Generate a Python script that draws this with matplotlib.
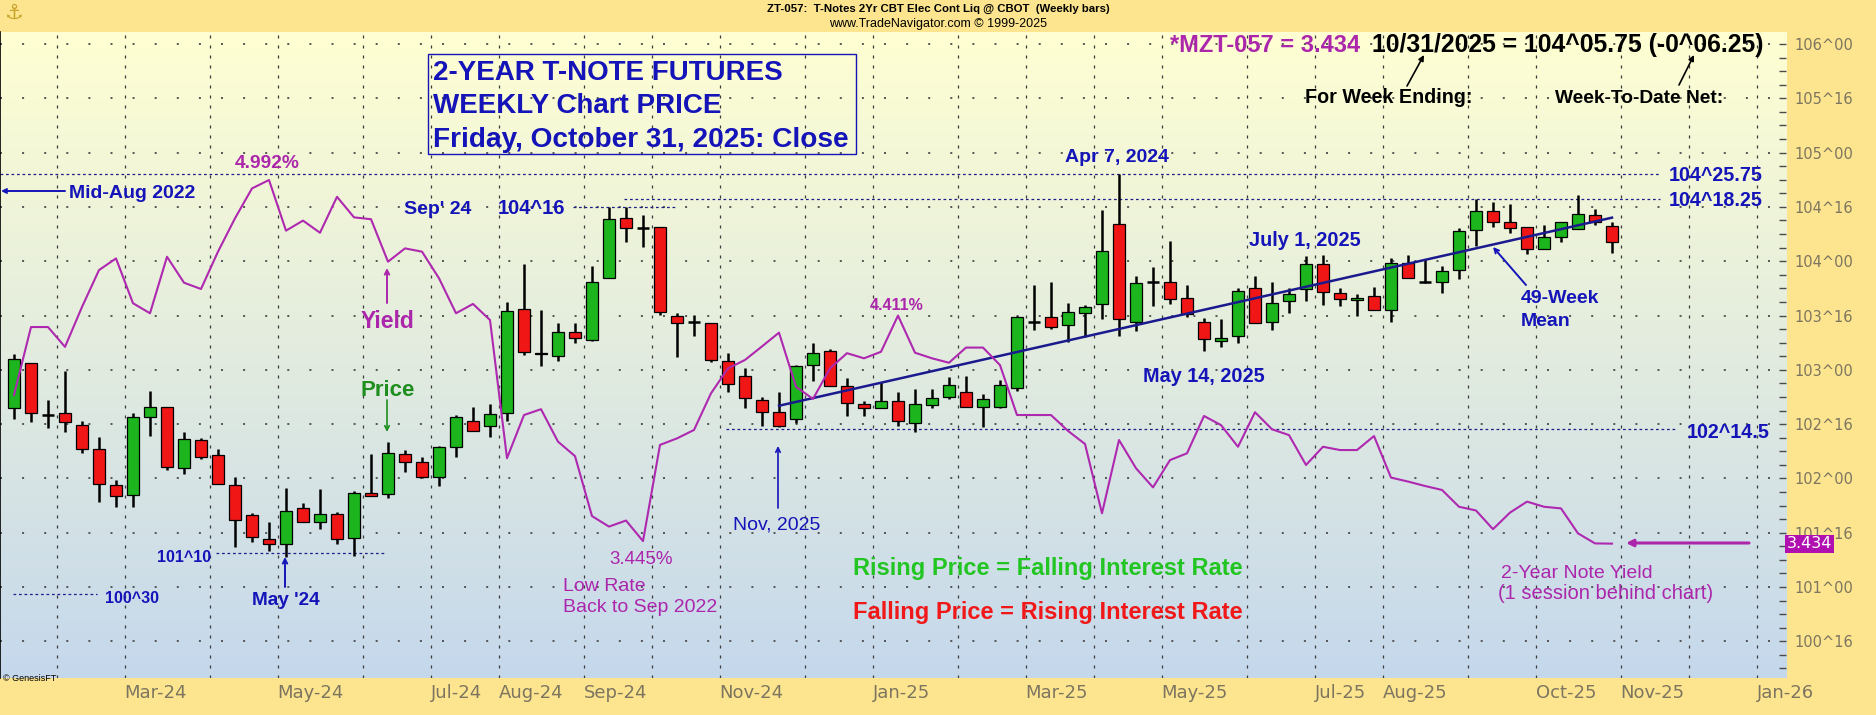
import numpy as np
import pandas as pd
import matplotlib
matplotlib.use("Agg")
import matplotlib.pyplot as plt
from matplotlib.patches import Rectangle

W, H, DPI = 1876, 715, 100

# ---------------- data ----------------
first_week = "2024-01-12"   # week ending dates, weekly bars
opens = [102.646, 103.060, 102.584, 102.600, 102.489, 102.268, 101.940, 101.848, 102.563, 102.655,
         102.093, 102.354, 102.216, 101.940, 101.663, 101.439, 101.393, 101.725, 101.602, 101.673,
         101.448, 101.863, 101.854, 102.222, 102.155, 102.010, 102.293, 102.529, 102.483, 102.599,
         103.560, 103.157, 103.127, 103.351, 103.274, 103.842, 104.395, 104.303, 104.312, 103.495,
         103.437, 103.428, 103.084, 102.946, 102.722, 102.609, 102.544, 103.044, 103.176, 102.854,
         102.682, 102.651, 102.713, 102.507, 102.676, 102.753, 102.792, 102.661, 102.660, 102.829,
         103.443, 103.483, 103.413, 103.526, 103.603, 104.339, 103.443, 103.812, 103.812, 103.658,
         103.443, 103.268, 103.311, 103.750, 103.443, 103.633, 103.741, 103.971, 103.710, 103.643,
         103.680, 103.551, 103.987, 103.805, 103.805, 103.919, 104.287, 104.465, 104.358, 104.312,
         104.112, 104.226, 104.297, 104.425, 104.327]
highs = [103.143, 103.066, 102.722, 102.989, 102.529, 102.379, 101.987, 102.600, 102.805, 102.655,
         102.425, 102.369, 102.268, 102.010, 101.679, 101.602, 101.909, 101.771, 101.900, 101.694,
         101.887, 102.222, 102.333, 102.262, 102.194, 102.302, 102.584, 102.655, 102.686, 103.627,
         103.974, 103.551, 103.428, 103.428, 103.956, 104.496, 104.496, 104.425, 104.312, 103.520,
         103.505, 103.428, 103.152, 103.014, 102.747, 102.799, 103.044, 103.244, 103.189, 102.921,
         102.716, 102.885, 102.799, 102.820, 102.820, 102.931, 102.943, 102.777, 102.906, 103.498,
         103.781, 103.805, 103.612, 103.597, 104.471, 104.805, 103.864, 103.944, 104.186, 103.781,
         103.480, 103.465, 103.750, 103.864, 103.805, 103.750, 104.048, 104.057, 103.750, 103.698,
         103.759, 104.027, 104.057, 104.017, 103.956, 104.303, 104.570, 104.548, 104.527, 104.312,
         104.333, 104.364, 104.610, 104.477, 104.358]
lows = [102.544, 102.523, 102.461, 102.431, 102.237, 101.786, 101.734, 101.734, 102.394, 102.078,
        102.038, 102.176, 101.946, 101.372, 101.412, 101.335, 101.274, 101.596, 101.535, 101.396,
        101.286, 101.841, 101.823, 102.062, 102.001, 101.934, 102.201, 102.437, 102.379, 102.532,
        103.136, 103.038, 103.084, 103.244, 103.268, 103.842, 104.180, 104.134, 103.505, 103.121,
        103.315, 103.075, 102.799, 102.651, 102.483, 102.477, 102.513, 102.900, 102.851, 102.578,
        102.578, 102.645, 102.483, 102.431, 102.651, 102.731, 102.660, 102.476, 102.645, 102.808,
        103.367, 103.376, 103.253, 103.305, 103.468, 103.314, 103.357, 103.591, 103.606, 103.489,
        103.176, 103.213, 103.244, 103.428, 103.367, 103.520, 103.637, 103.597, 103.591, 103.499,
        103.551, 103.443, 103.842, 103.796, 103.710, 103.833, 104.140, 104.318, 104.263, 104.063,
        104.109, 104.174, 104.297, 104.333, 104.072]
closes = [103.097, 102.600, 102.584, 102.517, 102.268, 101.946, 101.841, 102.563, 102.655, 102.102,
          102.360, 102.201, 101.946, 101.617, 101.458, 101.393, 101.703, 101.602, 101.670, 101.442,
          101.863, 101.841, 102.231, 102.155, 102.010, 102.287, 102.563, 102.437, 102.590, 103.545,
          103.167, 103.150, 103.351, 103.290, 103.812, 104.386, 104.303, 104.303, 103.535, 103.428,
          103.437, 103.090, 102.869, 102.737, 102.609, 102.486, 103.035, 103.158, 102.851, 102.697,
          102.651, 102.716, 102.532, 102.682, 102.737, 102.860, 102.660, 102.728, 102.860, 103.489,
          103.443, 103.397, 103.535, 103.581, 104.094, 103.465, 103.802, 103.812, 103.649, 103.511,
          103.281, 103.296, 103.729, 103.428, 103.612, 103.695, 103.971, 103.719, 103.649, 103.664,
          103.551, 103.987, 103.842, 103.805, 103.913, 104.281, 104.465, 104.364, 104.303, 104.109,
          104.226, 104.364, 104.432, 104.364, 104.180]
yields = [4.071, 4.362, 4.362, 4.277, 4.448, 4.606, 4.656, 4.464, 4.421, 4.663,
          4.552, 4.525, 4.685, 4.828, 4.956, 4.992, 4.775, 4.818, 4.766, 4.920,
          4.832, 4.824, 4.642, 4.699, 4.685, 4.571, 4.421, 4.461, 4.392, 3.800,
          3.985, 4.010, 3.871, 3.809, 3.552, 3.507, 3.533, 3.445, 3.857, 3.885,
          3.921, 4.078, 4.185, 4.221, 4.279, 4.338, 4.106, 4.054, 4.185, 4.250,
          4.228, 4.256, 4.411, 4.252, 4.228, 4.209, 4.274, 4.274, 4.199, 3.985,
          3.985, 3.985, 3.917, 3.861, 3.564, 3.878, 3.757, 3.675, 3.792, 3.821,
          3.981, 3.942, 3.849, 3.997, 3.924, 3.899, 3.771, 3.849, 3.835, 3.835,
          3.895, 3.717, 3.700, 3.681, 3.664, 3.592, 3.576, 3.496, 3.567, 3.614,
          3.592, 3.585, 3.478, 3.435, 3.434]
mean_weeks = [45, 94]            # 49-week mean line endpoints (bar index)
mean_vals = [102.669, 104.401]

price_ticks = [100.5, 101.0, 101.5, 102.0, 102.5, 103.0, 103.5, 104.0, 104.5, 105.0, 105.5, 106.0]
price_labels = ["100^16", "101^00", "101^16", "102^00", "102^16", "103^00", "103^16",
                "104^00", "104^16", "105^00", "105^16", "106^00"]
month_labels = ["Mar-24", "May-24", "Jul-24", "Aug-24", "Sep-24", "Nov-24", "Jan-25",
                "Mar-25", "May-25", "Jul-25", "Aug-25", "Oct-25", "Nov-25", "Jan-26"]

ref_levels = [104 + 25.75 / 32, 104 + 18.25 / 32, 104 + 16 / 32, 102 + 14.5 / 32, 101 + 10 / 32, 100 + 30 / 32]
ref_spans = [(-0.82, 96.8), (35.9, 96.8), (32.9, 39.0), (41.9, 97.8), (11.9, 21.9), (-0.06, 4.9)]

# ---------------- figure ----------------
SANS = ["Liberation Sans", "DejaVu Sans"]
AX_FONT = ["DejaVu Sans"]
BLUE = "#1414B8"
MAG = "#AC26AC"
AXTXT = "#7D7560"

fig = plt.figure(figsize=(W / DPI, H / DPI), dpi=DPI, facecolor="#FCE58E")
ax = fig.add_axes([0, 37 / H, 1786 / W, (678 - 32) / H])
ax.set_facecolor("none")

# gradient background
t = np.linspace(0, 1, 256)[:, None, None]
top = np.array([255, 255, 210]) / 255
bot = np.array([197, 216, 236]) / 255
grad = top * (1 - t) + bot * t
grad = np.repeat(grad, 2, axis=1)
ax.imshow(grad, extent=[0, 1, 0, 1], transform=ax.transAxes, aspect="auto", zorder=0,
          interpolation="bilinear")

xmin, xmax = -14 / 17, (1786 - 14) / 17
ymin, ymax = 106 - (678 - 44) / 108.6, 106 + (44 - 32) / 108.6
idx = np.arange(len(closes))

# month gridlines
dates = pd.date_range(first_week, periods=110, freq="7D")
bounds, bnames = [], []
for i in range(1, len(dates)):
    if dates[i].month != dates[i - 1].month:
        b = i - 0.5
        if xmin < b < xmax:
            bounds.append(b)
            bnames.append(dates[i].strftime("%b-%y"))
ax.vlines(bounds, ymin, ymax, colors="#3a3a3a", linestyles=(0, (2.4, 5.6)), lw=0.9, zorder=1)
ax.hlines(price_ticks, xmin, xmax, colors="#4a4a4a", linestyles=(0, (1.1, 11.14)), lw=1.3, zorder=1)

# reference levels
for lv, (a, b) in zip(ref_levels, ref_spans):
    ax.hlines(lv, a, b, colors="#1E1E8A", linestyles=(0, (2.2, 2.2)), lw=0.9, zorder=2)

# candles
o = np.array(opens); c = np.array(closes); hi = np.array(highs); lo = np.array(lows)
ax.vlines(idx, lo, hi, colors="black", lw=1.8, zorder=3)
body_w = 0.66
doji = np.abs(c - o) < 0.004
up = (c > o) & ~doji
dn = (c < o) & ~doji
ax.bar(idx[up], (c - o)[up], bottom=o[up], width=body_w, color="#1DB51D", edgecolor="black", lw=0.9, zorder=4)
ax.bar(idx[dn], (o - c)[dn], bottom=c[dn], width=body_w, color="#F01616", edgecolor="black", lw=0.9, zorder=4)
ax.hlines(c[doji], idx[doji] - body_w / 2, idx[doji] + body_w / 2, colors="black", lw=1.8, zorder=4)

# 49-week mean
ax.plot(mean_weeks, mean_vals, color="#1A1A8E", lw=1.8, zorder=5)

# yield line on own scale
ax2 = ax.twinx()
ax2.set_ylim(4.992 - (678 - 180) / 233.4, 4.992 + (180 - 32) / 233.4)
ax2.set_xlim(xmin, xmax)
ax2.plot(idx, yields, color="#AE28B0", lw=1.5, zorder=6)
ax2.axis("off")

ax.set_xlim(xmin, xmax)
ax.set_ylim(ymin, ymax)

# axes styling (after twinx, which resets host ticks to the left)
for s in ["top", "right", "bottom"]:
    ax.spines[s].set_visible(False)
ax.spines["left"].set_color("black")
ax.spines["left"].set_linewidth(1.2)
ax.set_yticks(price_ticks)
ax.set_yticklabels(price_labels, family=AX_FONT, fontsize=10.5, color=AXTXT)
minor = [v for v in np.arange(100.25, 106.11, 0.125) if all(abs(v - m) > 1e-6 for m in price_ticks)]
ax.set_yticks(minor, minor=True)
ax.tick_params(axis="y", which="both", left=False, labelleft=False, right=True, labelright=True,
               direction="in", length=5, width=1, color="#4a4a4a", pad=6)
lab_pos = [b for b, n in zip(bounds, bnames) if n in month_labels]
lab_txt = [n for n in bnames if n in month_labels]
ax.set_xticks(lab_pos)
ax.set_xticklabels(lab_txt, family=AX_FONT, fontsize=13, color=AXTXT, ha="left")
ax.tick_params(axis="x", length=0, pad=4)

# ---------------- annotations (figure pixel layout) ----------------
def txt(x, y, s, size, color, weight="bold", ha="left", family=SANS, **kw):
    fig.text(x / W, 1 - (y + 0.5 * size) / H, s, fontsize=size, color=color, fontweight=weight,
             ha=ha, va="baseline", family=family, **kw)

def arrow(x0, y0, x1, y1, color, lw=1.2, style="-|>", ms=8):
    ax.annotate("", xy=(x1, H - y1), xytext=(x0, H - y0), xycoords="figure pixels",
                textcoords="figure pixels", annotation_clip=False,
                arrowprops=dict(arrowstyle=style, color=color, lw=lw, shrinkA=0, shrinkB=0,
                                mutation_scale=ms))

# small logo glyph at top-left
fig.text(14 / W, 1 - 13 / H, "\u2693", fontsize=15, color="#C9A227", ha="center", va="center",
         family=["DejaVu Sans"])

txt(938, 8, "ZT-057:  T-Notes 2Yr CBT Elec Cont Liq @ CBOT  (Weekly bars)", 8.2, "black", ha="center")
txt(938, 23, "www.TradeNavigator.com \u00a9 1999-2025", 9, "black", weight="normal", ha="center")

fig.add_artist(Rectangle((428 / W, 1 - 154 / H), (856 - 428) / W, (154 - 54) / H,
                         transform=fig.transFigure, fill=False, edgecolor=BLUE, lw=1.0))
txt(433, 70, "2-YEAR T-NOTE FUTURES", 20, BLUE)
txt(433, 103, "WEEKLY Chart PRICE", 20, BLUE)
txt(433, 137, "Friday, October 31, 2025: Close", 20.2, BLUE)

txt(1170, 43, "*MZT-057 = 3.434", 17, MAG)
txt(1372, 43, "10/31/2025 = 104^05.75 (-0^06.25)", 17.8, "black")
txt(1305, 96, "For Week Ending:", 14.2, "black")
txt(1555, 96, "Week-To-Date Net:", 13.8, "black")
arrow(1407, 86, 1424, 55, "black", lw=1.2)
arrow(1679, 85, 1694, 55, "black", lw=1.2)

txt(267, 161, "4.992%", 13.8, MAG, ha="center")
txt(69, 191, "Mid-Aug 2022", 14, BLUE)
arrow(65, 191, 1, 191, BLUE, lw=1.4, style="->", ms=7)
txt(404, 207, "Sep' 24", 14, BLUE)
txt(498, 207, "104^16", 14.5, BLUE)
txt(387, 320, "Yield", 16.5, MAG, ha="center")
arrow(387, 303, 387, 268, MAG, lw=1.4, style="->", ms=8)
txt(388, 388, "Price", 16, "#1E8E1E", ha="center")
arrow(387, 400, 387, 432, "#1E8E1E", lw=1.2, style="->", ms=8)
txt(157, 556, "101^10", 11.5, BLUE)
txt(105, 597, "100^30", 11.5, BLUE)
txt(286, 598, "May '24", 13.7, BLUE, ha="center")
arrow(285, 587, 285, 557, BLUE, lw=1.4, style="->", ms=8)
txt(641, 557, "3.445%", 13.5, MAG, weight="normal", ha="center")
txt(563, 584, "Low Rate", 14, MAG, weight="normal")
txt(563, 605, "Back to Sep 2022", 14, MAG, weight="normal")
txt(777, 523, "Nov, 2025", 14, BLUE, weight="normal", ha="center")
arrow(778, 508, 778, 446, BLUE, lw=1.2, style="->", ms=8)
txt(897, 304, "4.411%", 11.5, MAG, ha="center")
txt(1117, 155, "Apr 7, 2024", 14, BLUE, ha="center")
txt(1249, 239, "July 1, 2025", 14.3, BLUE)
txt(1143, 375, "May 14, 2025", 14.3, BLUE)
txt(1521, 296, "49-Week", 14, BLUE)
txt(1521, 319, "Mean", 14, BLUE)
arrow(1526, 285, 1493, 247, BLUE, lw=1.4, style="->", ms=8)
txt(1669, 174, "104^25.75", 14.2, BLUE)
txt(1669, 199, "104^18.25", 14.2, BLUE)
txt(1687, 431, "102^14.5", 14.2, BLUE)
txt(853, 567, "Rising Price = Falling Interest Rate", 17, "#22C522")
txt(853, 610, "Falling Price = Rising Interest Rate", 17, "#F01818")
txt(1501, 571, "2-Year Note Yield", 14, MAG, weight="normal")
txt(1498, 592, "(1 session behind chart)", 14.5, MAG, weight="normal")
arrow(1749, 543, 1626, 543, MAG, lw=2.2, style="-|>", ms=10)

fig.text(1787 / W, 1 - 544 / H, "3.434", fontsize=11.5, color="white", family=AX_FONT, va="center", ha="left",
         bbox=dict(boxstyle="square,pad=0.12", facecolor="#B010B0", edgecolor="none"), zorder=10)
txt(3, 678, "\u00a9 GenesisFT", 6.5, "black", weight="normal")

fig.savefig("out.png", dpi=DPI, facecolor=fig.get_facecolor())
